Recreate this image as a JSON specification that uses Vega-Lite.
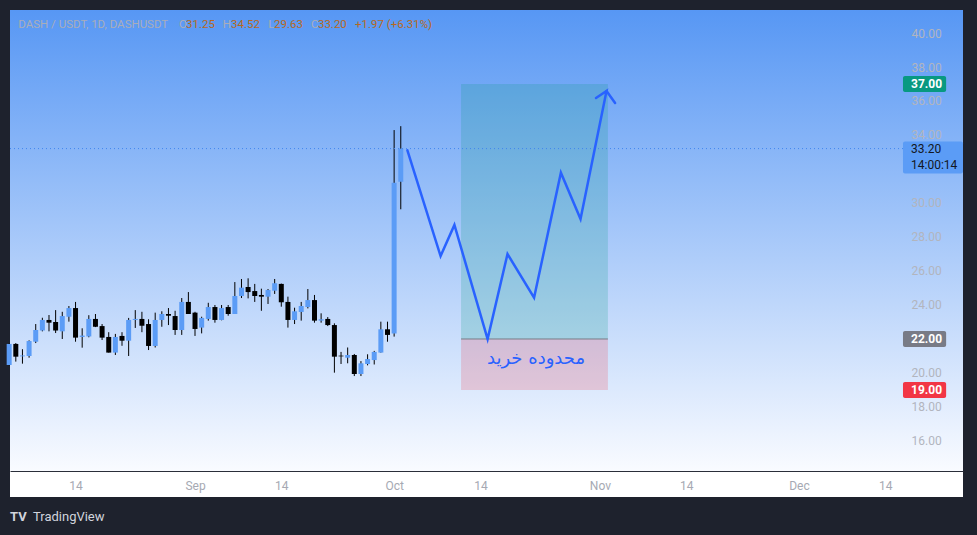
{
  "$schema": "https://vega.github.io/schema/vega-lite/v6.json",
  "width": 953,
  "height": 461,
  "autosize": {"type": "none"},
  "padding": {"left": 10, "top": 10, "right": 14, "bottom": 64},
  "background": "#1e222d",
  "view": {"stroke": null, "fill": {"gradient": "linear", "x1": 0, "y1": 0, "x2": 0, "y2": 1, "stops": [{"offset": 0, "color": "#5797f4"}, {"offset": 1, "color": "#f9fbff"}]}},
  "config": {"font": "Roboto", "axis": {"grid": false}, "scale": {"continuousPadding": 0}},
  "data": {"values": [{}]},
  "datasets": {
    "candles": [
      {"date": "2025-08-04", "open": 20.47, "high": 21.75, "low": 20.45, "close": 21.71},
      {"date": "2025-08-05", "open": 21.71, "high": 21.76, "low": 20.67, "close": 20.96},
      {"date": "2025-08-06", "open": 20.98, "high": 21.4, "low": 20.55, "close": 21.03},
      {"date": "2025-08-07", "open": 21.0, "high": 21.92, "low": 20.9, "close": 21.88},
      {"date": "2025-08-08", "open": 21.84, "high": 22.88, "low": 21.76, "close": 22.53},
      {"date": "2025-08-09", "open": 22.5, "high": 23.25, "low": 22.45, "close": 23.12},
      {"date": "2025-08-10", "open": 23.12, "high": 23.41, "low": 22.45, "close": 22.96},
      {"date": "2025-08-11", "open": 23.0, "high": 23.7, "low": 22.35, "close": 22.5},
      {"date": "2025-08-12", "open": 22.45, "high": 23.6, "low": 22.0, "close": 23.35},
      {"date": "2025-08-13", "open": 23.31, "high": 23.94, "low": 23.02, "close": 23.82},
      {"date": "2025-08-14", "open": 23.82, "high": 24.18, "low": 21.84, "close": 22.08},
      {"date": "2025-08-15", "open": 22.12, "high": 22.63, "low": 21.49, "close": 22.2},
      {"date": "2025-08-16", "open": 22.15, "high": 23.4, "low": 22.1, "close": 23.18},
      {"date": "2025-08-17", "open": 23.18, "high": 23.47, "low": 22.7, "close": 22.72},
      {"date": "2025-08-18", "open": 22.76, "high": 22.88, "low": 21.94, "close": 22.08},
      {"date": "2025-08-19", "open": 22.12, "high": 22.4, "low": 21.2, "close": 21.2},
      {"date": "2025-08-20", "open": 21.2, "high": 22.3, "low": 21.06, "close": 22.12},
      {"date": "2025-08-21", "open": 22.18, "high": 22.4, "low": 21.6, "close": 21.9},
      {"date": "2025-08-22", "open": 21.9, "high": 23.24, "low": 21.0, "close": 23.12},
      {"date": "2025-08-23", "open": 23.12, "high": 23.7, "low": 22.65, "close": 23.18},
      {"date": "2025-08-24", "open": 23.18, "high": 23.6, "low": 22.4, "close": 22.78},
      {"date": "2025-08-25", "open": 22.88, "high": 23.16, "low": 21.35, "close": 21.59},
      {"date": "2025-08-26", "open": 21.59, "high": 23.55, "low": 21.5, "close": 23.12},
      {"date": "2025-08-27", "open": 23.12, "high": 23.63, "low": 22.72, "close": 23.47},
      {"date": "2025-08-28", "open": 23.47, "high": 23.82, "low": 22.82, "close": 23.37},
      {"date": "2025-08-29", "open": 23.35, "high": 23.66, "low": 22.24, "close": 22.53},
      {"date": "2025-08-30", "open": 22.53, "high": 24.41, "low": 22.24, "close": 24.18},
      {"date": "2025-08-31", "open": 24.18, "high": 24.76, "low": 23.47, "close": 23.47},
      {"date": "2025-09-01", "open": 23.55, "high": 23.6, "low": 22.18, "close": 22.59},
      {"date": "2025-09-02", "open": 22.67, "high": 23.31, "low": 22.33, "close": 23.24},
      {"date": "2025-09-03", "open": 23.18, "high": 24.13, "low": 23.08, "close": 23.88},
      {"date": "2025-09-04", "open": 23.88, "high": 24.0, "low": 22.96, "close": 23.12},
      {"date": "2025-09-05", "open": 23.12, "high": 24.0, "low": 23.1, "close": 23.82},
      {"date": "2025-09-06", "open": 23.88, "high": 24.0, "low": 23.37, "close": 23.47},
      {"date": "2025-09-07", "open": 23.47, "high": 25.35, "low": 23.47, "close": 24.53},
      {"date": "2025-09-08", "open": 24.53, "high": 25.53, "low": 24.41, "close": 25.02},
      {"date": "2025-09-09", "open": 25.06, "high": 25.57, "low": 24.39, "close": 24.76},
      {"date": "2025-09-10", "open": 24.82, "high": 25.24, "low": 24.18, "close": 24.53},
      {"date": "2025-09-11", "open": 24.59, "high": 24.96, "low": 23.66, "close": 24.49},
      {"date": "2025-09-12", "open": 24.49, "high": 24.94, "low": 24.06, "close": 24.88},
      {"date": "2025-09-13", "open": 24.84, "high": 25.53, "low": 24.65, "close": 25.28},
      {"date": "2025-09-14", "open": 25.24, "high": 25.26, "low": 23.9, "close": 24.16},
      {"date": "2025-09-15", "open": 24.18, "high": 24.49, "low": 22.67, "close": 23.12},
      {"date": "2025-09-16", "open": 23.12, "high": 23.84, "low": 22.88, "close": 23.63},
      {"date": "2025-09-17", "open": 23.59, "high": 24.18, "low": 23.08, "close": 23.94},
      {"date": "2025-09-18", "open": 23.88, "high": 24.94, "low": 23.8, "close": 24.29},
      {"date": "2025-09-19", "open": 24.29, "high": 24.59, "low": 22.96, "close": 23.08},
      {"date": "2025-09-20", "open": 23.08, "high": 23.51, "low": 22.96, "close": 23.16},
      {"date": "2025-09-21", "open": 23.18, "high": 23.29, "low": 22.76, "close": 22.82},
      {"date": "2025-09-22", "open": 22.82, "high": 22.92, "low": 20.02, "close": 20.96},
      {"date": "2025-09-23", "open": 21.02, "high": 21.24, "low": 20.53, "close": 20.98},
      {"date": "2025-09-24", "open": 20.9, "high": 21.5, "low": 20.57, "close": 21.06},
      {"date": "2025-09-25", "open": 21.06, "high": 21.12, "low": 19.82, "close": 19.94},
      {"date": "2025-09-26", "open": 19.94, "high": 20.7, "low": 19.82, "close": 20.57},
      {"date": "2025-09-27", "open": 20.53, "high": 21.1, "low": 20.45, "close": 20.82},
      {"date": "2025-09-28", "open": 20.76, "high": 21.3, "low": 20.5, "close": 21.24},
      {"date": "2025-09-29", "open": 21.2, "high": 23.02, "low": 21.2, "close": 22.57},
      {"date": "2025-09-30", "open": 22.57, "high": 23.02, "low": 21.84, "close": 22.24},
      {"date": "2025-10-01", "open": 22.33, "high": 34.29, "low": 22.14, "close": 31.19},
      {"date": "2025-10-02", "open": 31.25, "high": 34.52, "low": 29.63, "close": 33.2}
    ],
    "path": [
      {"seg": "main", "step": 1, "date": "2025-10-03T00:00:00Z", "price": 33.1},
      {"seg": "main", "step": 2, "date": "2025-10-08T00:00:00Z", "price": 26.88},
      {"seg": "main", "step": 3, "date": "2025-10-10T02:00:00Z", "price": 28.71},
      {"seg": "main", "step": 4, "date": "2025-10-15T02:00:00Z", "price": 22.0},
      {"seg": "main", "step": 5, "date": "2025-10-18T02:00:00Z", "price": 27.0},
      {"seg": "main", "step": 6, "date": "2025-10-22T02:00:00Z", "price": 24.43},
      {"seg": "main", "step": 7, "date": "2025-10-26T03:00:00Z", "price": 31.78},
      {"seg": "main", "step": 8, "date": "2025-10-29T02:00:00Z", "price": 29.06},
      {"seg": "main", "step": 9, "date": "2025-11-02T00:00:00Z", "price": 36.59},
      {"seg": "main", "step": 10, "date": "2025-10-31T10:00:00Z", "price": 36.18},
      {"seg": "wing", "step": 1, "date": "2025-11-02T00:00:00Z", "price": 36.59},
      {"seg": "wing", "step": 2, "date": "2025-11-03T07:00:00Z", "price": 35.88}
    ],
    "zones": [
      {"zone": "profit", "start": "2025-10-11T02:00:00Z", "end": "2025-11-02T05:00:00Z", "low": 22, "high": 37},
      {"zone": "stop", "start": "2025-10-11T02:00:00Z", "end": "2025-11-02T05:00:00Z", "low": 19, "high": 22}
    ],
    "levels": [
      {"level": "target", "price": 37, "label": "37.00"},
      {"level": "entry", "price": 22, "label": "22.00"},
      {"level": "stop", "price": 19, "label": "19.00"}
    ]
  },
  "resolve": {"scale": {"color": "independent"}},
  "layer": [
    {
      "mark": {"type": "rect", "color": "#ffffff"},
      "encoding": {
        "x": {"datum": {"year": 2025, "month": 8, "date": 4, "hours": 3, "utc": true}, "type": "temporal", "title": null},
        "x2": {"datum": {"year": 2025, "month": 12, "date": 25, "hours": 17, "utc": true}},
        "y": {"datum": 14.235, "type": "quantitative", "title": null},
        "y2": {"datum": 12.71}
      }
    },
    {
      "data": {"name": "zones"},
      "mark": {"type": "rect", "opacity": 0.2},
      "encoding": {
        "x": {"field": "start", "type": "temporal", "title": null},
        "x2": {"field": "end"},
        "y": {"field": "low", "type": "quantitative", "title": null},
        "y2": {"field": "high"},
        "color": {"field": "zone", "type": "nominal", "scale": {"domain": ["profit", "stop"], "range": ["#089981", "#f23645"]}, "legend": null}
      }
    },
    {
      "mark": {"type": "rule", "color": "#787b86", "strokeWidth": 1},
      "encoding": {
        "x": {"datum": {"year": 2025, "month": 10, "date": 11, "hours": 2, "utc": true}, "type": "temporal", "title": null},
        "x2": {"datum": {"year": 2025, "month": 11, "date": 2, "hours": 5, "utc": true}},
        "y": {"datum": 22, "type": "quantitative", "title": null}
      }
    },
    {
      "data": {"name": "candles"},
      "mark": {"type": "rule", "color": "#000000", "strokeWidth": 1},
      "encoding": {
        "x": {
          "field": "date", "type": "temporal", "title": null,
          "scale": {"type": "utc", "padding": 0, "domain": [{"year": 2025, "month": 8, "date": 4, "hours": 3, "utc": true}, {"year": 2025, "month": 12, "date": 25, "hours": 17, "utc": true}]},
          "axis": {
            "values": [
              {"year": 2025, "month": 8, "date": 14, "utc": true},
              {"year": 2025, "month": 9, "date": 1, "utc": true},
              {"year": 2025, "month": 9, "date": 14, "utc": true},
              {"year": 2025, "month": 10, "date": 1, "utc": true},
              {"year": 2025, "month": 10, "date": 14, "utc": true},
              {"year": 2025, "month": 11, "date": 1, "utc": true},
              {"year": 2025, "month": 11, "date": 14, "utc": true},
              {"year": 2025, "month": 12, "date": 1, "utc": true},
              {"year": 2025, "month": 12, "date": 14, "utc": true}
            ],
            "labelExpr": "utcdate(datum.value) == 1 ? utcFormat(datum.value, '%b') : utcFormat(datum.value, '%d')",
            "ticks": false, "tickSize": 0, "domain": true, "domainColor": "#2a2e39", "domainWidth": 1,
            "labelColor": "#a6a9b3", "labelFont": "Roboto", "labelFontSize": 12, "labelPadding": 9,
            "labelFlush": false, "labelOverlap": false, "grid": false, "zindex": 1
          }
        },
        "y": {
          "field": "low", "type": "quantitative", "title": null,
          "scale": {"domain": [14.235, 41.353], "nice": false, "zero": false, "padding": 0},
          "axis": {
            "orient": "right", "offset": -52,
            "values": [16, 18, 20, 24, 26, 28, 30, 34, 36, 38, 40],
            "format": ".2f", "domain": false, "ticks": false, "tickSize": 0, "labelPadding": 0,
            "labelOverlap": false, "labelFlush": false,
            "labelColor": "#b2b5be", "labelFont": "Roboto", "labelFontSize": 12, "grid": false, "zindex": 0
          }
        },
        "y2": {"field": "high"}
      }
    },
    {
      "data": {"name": "candles"},
      "mark": {"type": "bar", "size": 5},
      "encoding": {
        "x": {"field": "date", "type": "temporal", "title": null},
        "y": {"field": "open", "type": "quantitative", "title": null},
        "y2": {"field": "close"},
        "color": {"condition": {"test": "datum.close >= datum.open", "value": "#5b9cf6"}, "value": "#000000"}
      }
    },
    {
      "mark": {"type": "rule", "color": "#3f85ef", "strokeWidth": 1, "strokeDash": [1, 3]},
      "encoding": {
        "x": {"datum": {"year": 2025, "month": 8, "date": 4, "hours": 3, "utc": true}, "type": "temporal", "title": null},
        "x2": {"datum": {"year": 2025, "month": 12, "date": 16, "hours": 16, "utc": true}},
        "y": {"datum": 33.2, "type": "quantitative", "title": null}
      }
    },
    {
      "data": {"name": "path"},
      "mark": {"type": "line", "color": "#2962ff", "strokeWidth": 2.5, "strokeCap": "round", "strokeJoin": "miter"},
      "encoding": {
        "x": {"field": "date", "type": "temporal", "title": null},
        "y": {"field": "price", "type": "quantitative", "title": null},
        "detail": {"field": "seg"},
        "order": {"field": "step", "type": "quantitative"}
      }
    },
    {
      "mark": {"type": "text", "text": "محدوده خرید", "font": "DejaVu Sans", "fontSize": 18, "color": "#2962ff", "align": "center", "baseline": "middle"},
      "encoding": {
        "x": {"datum": {"year": 2025, "month": 10, "date": 22, "hours": 9, "utc": true}, "type": "temporal", "title": null},
        "y": {"datum": 20.82, "type": "quantitative", "title": null}
      }
    },
    {
      "data": {"name": "levels"},
      "mark": {"type": "bar", "orient": "horizontal", "size": 16, "cornerRadius": 2},
      "encoding": {
        "x": {"datum": {"year": 2025, "month": 12, "date": 16, "hours": 16, "utc": true}, "type": "temporal", "title": null},
        "x2": {"datum": {"year": 2025, "month": 12, "date": 23, "hours": 4, "utc": true}},
        "y": {"field": "price", "type": "quantitative", "title": null},
        "color": {"field": "level", "type": "nominal", "scale": {"domain": ["target", "entry", "stop"], "range": ["#089981", "#787b86", "#f23645"]}, "legend": null}
      }
    },
    {
      "data": {"name": "levels"},
      "mark": {"type": "text", "color": "#ffffff", "fontSize": 12, "fontWeight": "bold", "align": "left", "baseline": "middle"},
      "encoding": {
        "x": {"datum": {"year": 2025, "month": 12, "date": 17, "hours": 21, "utc": true}, "type": "temporal", "title": null},
        "y": {"field": "price", "type": "quantitative", "title": null},
        "text": {"field": "label"}
      }
    },
    {
      "mark": {"type": "bar", "orient": "horizontal", "size": 32, "yOffset": 9, "color": "#5b9cf6", "cornerRadius": 2},
      "encoding": {
        "x": {"datum": {"year": 2025, "month": 12, "date": 16, "hours": 16, "utc": true}, "type": "temporal", "title": null},
        "x2": {"datum": {"year": 2025, "month": 12, "date": 25, "hours": 17, "utc": true}},
        "y": {"datum": 33.2, "type": "quantitative", "title": null}
      }
    },
    {
      "mark": {"type": "text", "text": "33.20", "color": "#131722", "fontSize": 12, "align": "left", "baseline": "middle"},
      "encoding": {
        "x": {"datum": {"year": 2025, "month": 12, "date": 17, "hours": 21, "utc": true}, "type": "temporal", "title": null},
        "y": {"datum": 33.2, "type": "quantitative", "title": null}
      }
    },
    {
      "mark": {"type": "text", "text": "14:00:14", "color": "#131722", "fontSize": 12, "align": "left", "baseline": "middle", "dy": 16},
      "encoding": {
        "x": {"datum": {"year": 2025, "month": 12, "date": 17, "hours": 21, "utc": true}, "type": "temporal", "title": null},
        "y": {"datum": 33.2, "type": "quantitative", "title": null}
      }
    },
    {
      "mark": {"type": "text", "text": "DASH / USDT, 1D, DASHUSDT", "color": "#a9adb9", "fontSize": 11.5, "align": "left", "baseline": "middle"},
      "encoding": {
        "x": {"datum": {"year": 2025, "month": 8, "date": 5, "hours": 9, "utc": true}, "type": "temporal", "title": null},
        "y": {"datum": 40.49, "type": "quantitative", "title": null}
      }
    },
    {
      "mark": {"type": "text", "text": "O", "color": "#a9adb9", "fontSize": 11.5, "align": "left", "baseline": "middle"},
      "encoding": {
        "x": {"datum": {"year": 2025, "month": 8, "date": 29, "hours": 14, "utc": true}, "type": "temporal", "title": null},
        "y": {"datum": 40.49, "type": "quantitative", "title": null}
      }
    },
    {
      "mark": {"type": "text", "text": "31.25", "color": "#b8691d", "fontSize": 11.5, "align": "left", "baseline": "middle"},
      "encoding": {
        "x": {"datum": {"year": 2025, "month": 8, "date": 30, "hours": 15, "minutes": 30, "utc": true}, "type": "temporal", "title": null},
        "y": {"datum": 40.49, "type": "quantitative", "title": null}
      }
    },
    {
      "mark": {"type": "text", "text": "H", "color": "#a9adb9", "fontSize": 11.5, "align": "left", "baseline": "middle"},
      "encoding": {
        "x": {"datum": {"year": 2025, "month": 9, "date": 5, "hours": 4, "utc": true}, "type": "temporal", "title": null},
        "y": {"datum": 40.49, "type": "quantitative", "title": null}
      }
    },
    {
      "mark": {"type": "text", "text": "34.52", "color": "#b8691d", "fontSize": 11.5, "align": "left", "baseline": "middle"},
      "encoding": {
        "x": {"datum": {"year": 2025, "month": 9, "date": 6, "hours": 10, "utc": true}, "type": "temporal", "title": null},
        "y": {"datum": 40.49, "type": "quantitative", "title": null}
      }
    },
    {
      "mark": {"type": "text", "text": "L", "color": "#a9adb9", "fontSize": 11.5, "align": "left", "baseline": "middle"},
      "encoding": {
        "x": {"datum": {"year": 2025, "month": 9, "date": 12, "hours": 1, "utc": true}, "type": "temporal", "title": null},
        "y": {"datum": 40.49, "type": "quantitative", "title": null}
      }
    },
    {
      "mark": {"type": "text", "text": "29.63", "color": "#b8691d", "fontSize": 11.5, "align": "left", "baseline": "middle"},
      "encoding": {
        "x": {"datum": {"year": 2025, "month": 9, "date": 12, "hours": 21, "minutes": 30, "utc": true}, "type": "temporal", "title": null},
        "y": {"datum": 40.49, "type": "quantitative", "title": null}
      }
    },
    {
      "mark": {"type": "text", "text": "C", "color": "#a9adb9", "fontSize": 11.5, "align": "left", "baseline": "middle"},
      "encoding": {
        "x": {"datum": {"year": 2025, "month": 9, "date": 18, "hours": 11, "minutes": 30, "utc": true}, "type": "temporal", "title": null},
        "y": {"datum": 40.49, "type": "quantitative", "title": null}
      }
    },
    {
      "mark": {"type": "text", "text": "33.20", "color": "#b8691d", "fontSize": 11.5, "align": "left", "baseline": "middle"},
      "encoding": {
        "x": {"datum": {"year": 2025, "month": 9, "date": 19, "hours": 12, "minutes": 30, "utc": true}, "type": "temporal", "title": null},
        "y": {"datum": 40.49, "type": "quantitative", "title": null}
      }
    },
    {
      "mark": {"type": "text", "text": "+1.97 (+6.31%)", "color": "#b8691d", "fontSize": 11.5, "align": "left", "baseline": "middle"},
      "encoding": {
        "x": {"datum": {"year": 2025, "month": 9, "date": 25, "hours": 2, "minutes": 30, "utc": true}, "type": "temporal", "title": null},
        "y": {"datum": 40.49, "type": "quantitative", "title": null}
      }
    },
    {
      "mark": {"type": "text", "text": "TV", "color": "#d1d4dc", "fontSize": 13, "fontWeight": "bold", "align": "left", "baseline": "middle"},
      "encoding": {
        "x": {"datum": {"year": 2025, "month": 8, "date": 4, "hours": 3, "utc": true}, "type": "temporal", "title": null},
        "y": {"datum": 11.51, "type": "quantitative", "title": null}
      }
    },
    {
      "mark": {"type": "text", "text": "TradingView", "color": "#d1d4dc", "fontSize": 13, "align": "left", "baseline": "middle"},
      "encoding": {
        "x": {"datum": {"year": 2025, "month": 8, "date": 7, "hours": 14, "utc": true}, "type": "temporal", "title": null},
        "y": {"datum": 11.51, "type": "quantitative", "title": null}
      }
    }
  ]
}
